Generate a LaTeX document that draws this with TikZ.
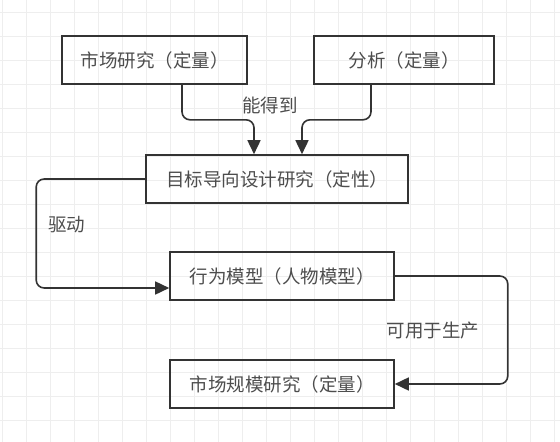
\documentclass[tikz,border=0pt]{standalone}
\usepackage{fontspec}
\usepackage{xcolor}
\usepackage{tikz}
\usetikzlibrary{arrows.meta}
\newfontfamily\cjk{Noto Sans CJK SC}
\definecolor{edgegray}{HTML}{333333}
\definecolor{textgray}{HTML}{4D4D4D}
\definecolor{gridgray}{HTML}{EEEEEE}

\begin{document}
\begin{tikzpicture}[x=1pt, y=-1pt,
  box/.style={draw=edgegray, line width=1.6pt, minimum height=48pt,
    inner sep=0pt, text=textgray, font=\cjk\fontsize{18.5}{19}\selectfont},
  link/.style={draw=edgegray, line width=1.6pt, rounded corners=8pt,
    -{Triangle[length=14pt,width=13pt]}},
  lbl/.style={text=textgray, inner sep=1pt, font=\cjk\fontsize{18.5}{19}\selectfont}]
  \useasboundingbox (0,0) rectangle (560,442);

  % Background grid
  \foreach \i in {0,...,23}
    \draw[gridgray, line width=0.8pt] (2.7+24*\i, 0) -- (2.7+24*\i, 442);
  \foreach \j in {0,...,17}
    \draw[gridgray, line width=0.8pt] (0, 12.5+24*\j) -- (560, 12.5+24*\j);

  % Boxes
  \node[box, minimum width=185pt] (mkt) at (154.5,60) {市场研究（定量）};
  \node[box, minimum width=180pt] (ana) at (404,60) {分析（定量）};
  \node[box, minimum width=262pt] (goal) at (277,179) {目标导向设计研究（定性）};
  \node[box, minimum width=224pt] (behav) at (282,276) {行为模型（人物模型）};
  \node[box, minimum width=224pt] (size) at (282,384) {市场规模研究（定量）};

  % Connectors
  \draw[link] ([xshift=27.5pt]mkt.south) -- ++(0,35) -| ([xshift=-23pt]goal.north);
  \draw[link] ([xshift=-33pt]ana.south) -- ++(0,35) -| ([xshift=25pt]goal.north);
  \draw[link] (goal.west) -- ++(-109,0) |- ([yshift=-12pt]behav.west);
  \draw[link] (behav.east) -- ++(113,0) |- (size.east);

  % Labels
  \node[lbl] (get) at (270,105) {能得到};
  \node[lbl] (drive) at (67,225) {驱动};
  \node[lbl] (prod) at (433,331) {可用于生产};
\end{tikzpicture}
\end{document}
